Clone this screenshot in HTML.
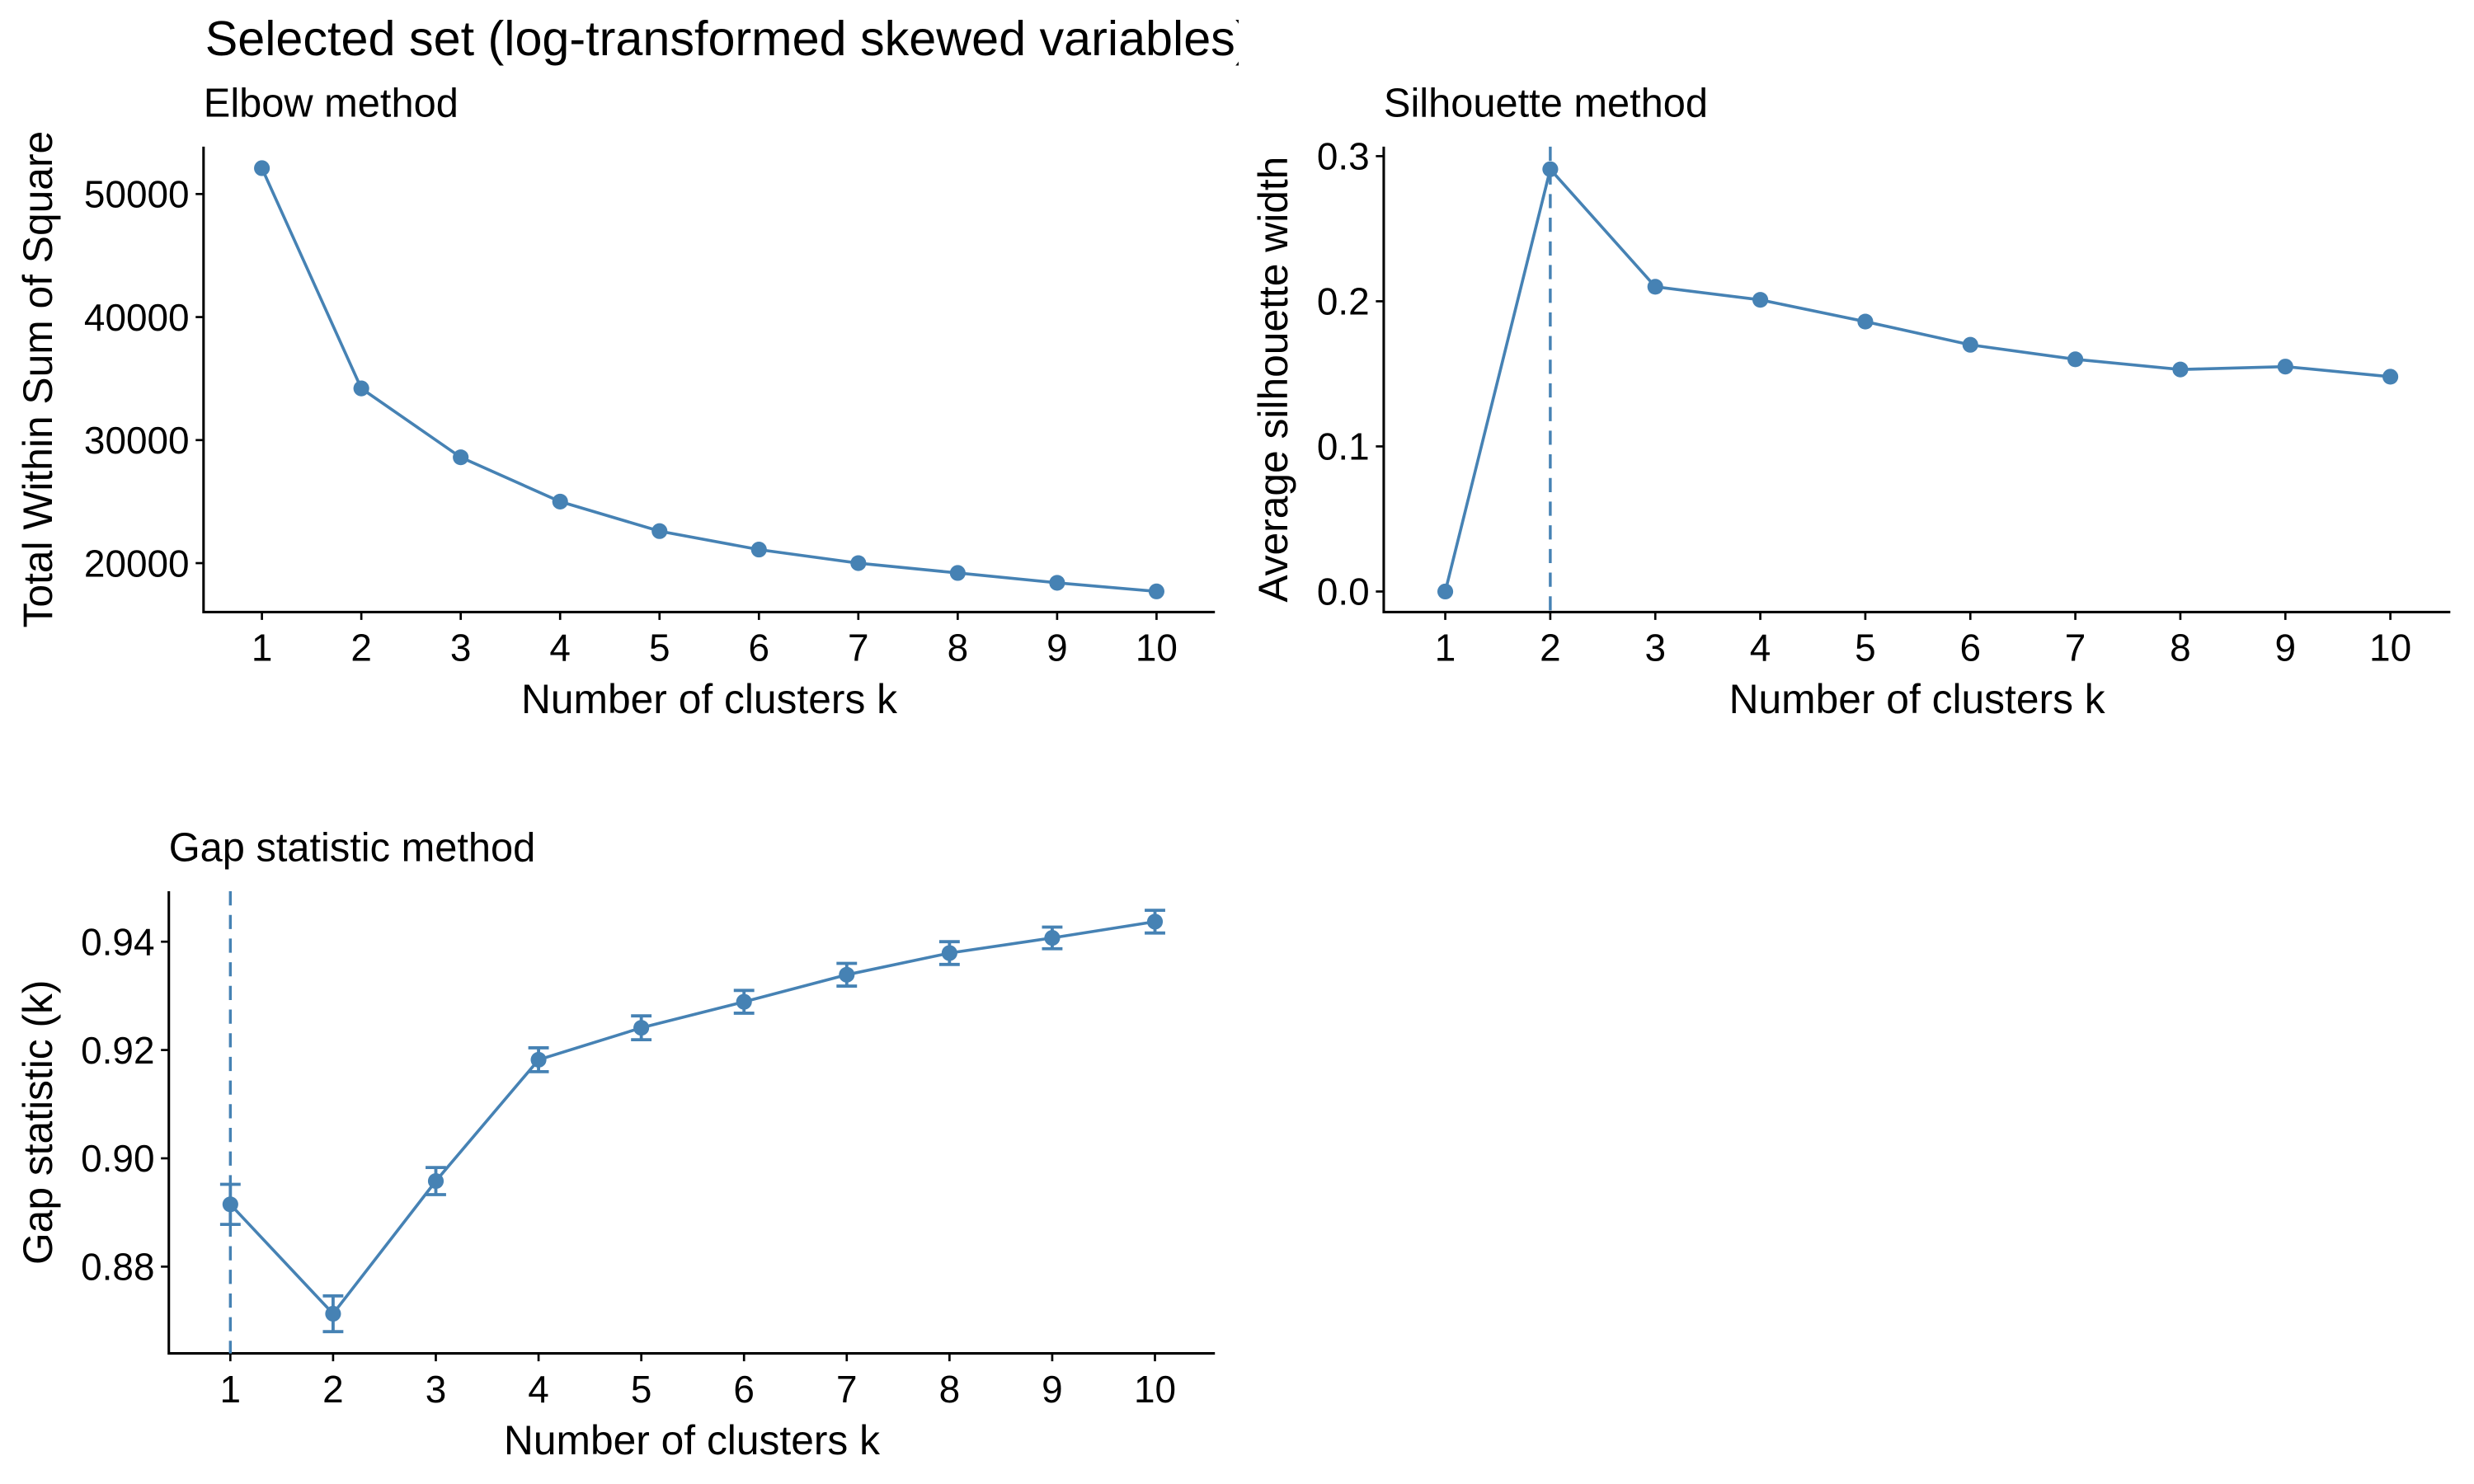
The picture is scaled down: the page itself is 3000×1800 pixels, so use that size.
<!DOCTYPE html>
<html><head><meta charset="utf-8"><style>
html,body{margin:0;padding:0;background:#fff;}
svg{display:block;font-family:"Liberation Sans",Arial,sans-serif;}
</style></head><body>
<svg id="fig" width="3000" height="1800" viewBox="0 0 1568 940.8" preserveAspectRatio="none" xmlns="http://www.w3.org/2000/svg">
<rect width="1568" height="941" fill="#fff"/>
<defs><clipPath id="tc"><rect x="0" y="0" width="785" height="60"/></clipPath></defs>
<text x="130" y="35" font-size="31" clip-path="url(#tc)">Selected set (log-transformed skewed variables)</text>
<g id="p1"></g>
<g id="p2"></g>
<g id="p3"></g>
</svg>
<script>
const ks=[1,2,3,4,5,6,7,8,9,10];
const elbowVals=[52100,34200,28600,25000,22600,21100,20000,19200,18400,17700];
const elbowTicks=[20000,30000,40000,50000];
const silVals=[0,0.291,0.210,0.201,0.186,0.170,0.160,0.153,0.155,0.148];
const silTicks=[0.0,0.1,0.2,0.3];
const silTickLabels=["0.0","0.1","0.2","0.3"];
const gapVals=[0.8915,0.8713,0.8958,0.9182,0.9241,0.9289,0.9339,0.9379,0.9407,0.9437];
const gapErr=[0.0037,0.0033,0.0025,0.0022,0.0022,0.0021,0.0021,0.0021,0.0020,0.0021];
const gapTicks=[0.88,0.90,0.92,0.94];
const gapTickLabels=["0.88","0.90","0.92","0.94"];
const C="#4682B4",NS="http://www.w3.org/2000/svg";
function mk(p,t,a,txt){const e=document.createElementNS(NS,t);for(const k in a)e.setAttribute(k,a[k]);if(txt!==undefined)e.textContent=txt;p.appendChild(e);return e;}
function panel(g,o){
  const xs=k=>o.x1+(k-1)*(o.x10-o.x1)/9;
  const ys=v=>o.yA+(v-o.vA)*(o.yB-o.yA)/(o.vB-o.vA);
  let t=mk(g,'text',{x:o.L,y:o.top-19,'font-size':25.5},o.title);
  
  
  let ax=mk(g,'path',{d:`M${o.L},${o.top}V${o.bot}H${o.R}`,stroke:'#000','stroke-width':1.6,fill:'none'});
  
  
  ks.forEach(k=>{const x=xs(k);
    mk(g,'line',{x1:x,x2:x,y1:o.bot,y2:o.bot+5,stroke:'#000','stroke-width':1.4});
    const l=mk(g,'text',{x:x,y:o.bot+31,'font-size':24,'text-anchor':'middle'},String(k));
    
    });
  o.ticks.forEach((v,i)=>{const y=ys(v);
    mk(g,'line',{x1:o.L-5,x2:o.L,y1:y,y2:y,stroke:'#000','stroke-width':1.4});
    const l=mk(g,'text',{x:o.L-9,y:y+8.5,'font-size':24,'text-anchor':'end'},o.labels[i]);
    
    });
  const xt=mk(g,'text',{x:(o.L+o.R)/2,y:o.bot+64,'font-size':26,'text-anchor':'middle'},'Number of clusters k');
  
  
  const cy=(o.top+o.bot)/2;
  const yt=mk(g,'text',{x:o.yTitleX,y:cy,'font-size':26,'text-anchor':'middle',transform:`rotate(-90 ${o.yTitleX} ${cy})`},o.ytitle);
  
  
  if(o.vline){const x=xs(o.vline);
    const v=mk(g,'line',{x1:x,x2:x,y1:o.top,y2:o.bot,stroke:C,'stroke-width':1.8,'stroke-dasharray':'9,6'});
    
    }
  const ln=mk(g,'polyline',{points:o.vals.map((v,i)=>xs(ks[i])+','+ys(v)).join(' '),fill:'none',stroke:C,'stroke-width':1.9});
  
  
  o.vals.forEach((v,i)=>{const x=xs(ks[i]);
    if(o.err){const a=ys(v+o.err[i]),b=ys(v-o.err[i]);
      const eb=mk(g,'path',{d:`M${x-6.5},${a}H${x+6.5}M${x},${a}V${b}M${x-6.5},${b}H${x+6.5}`,stroke:C,'stroke-width':2,fill:'none'});
      
      }
    const p=mk(g,'circle',{cx:x,cy:ys(v),r:5,fill:C});
    
    });
}
panel(document.getElementById('p1'),{L:129,R:770,top:93,bot:388,x1:166,x10:733,yA:357,vA:20000,yB:123,vB:50000,ticks:elbowTicks,labels:elbowTicks.map(String),vals:elbowVals,title:'Elbow method',ytitle:'Total Within Sum of Square',yTitleX:33});
panel(document.getElementById('p2'),{L:877,R:1553,top:93,bot:388,x1:916,x10:1515,yA:375,vA:0,yB:99,vB:0.3,ticks:silTicks,labels:silTickLabels,vals:silVals,title:'Silhouette method',ytitle:'Average silhouette width',yTitleX:816,vline:2});
panel(document.getElementById('p3'),{L:107,R:770,top:565,bot:858,x1:146,x10:732,yA:803,vA:0.88,yB:597,vB:0.94,ticks:gapTicks,labels:gapTickLabels,vals:gapVals,err:gapErr,title:'Gap statistic method',ytitle:'Gap statistic (k)',yTitleX:33,vline:1});
</script>
</body></html>
